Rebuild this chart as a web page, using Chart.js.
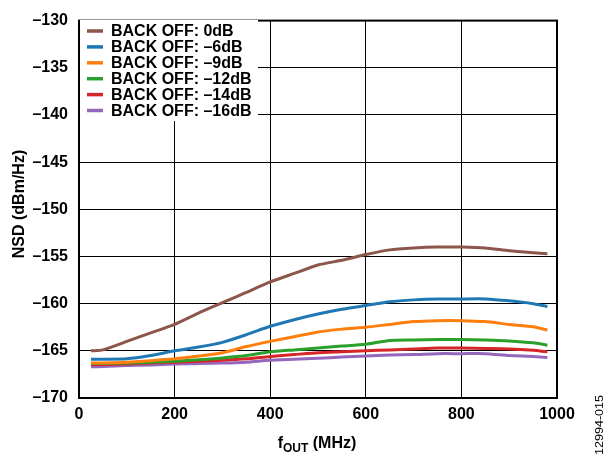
<!DOCTYPE html>
<html>
<head>
<meta charset="utf-8">
<script src="https://cdn.jsdelivr.net/npm/chart.js@4.4.0/dist/chart.umd.min.js"></script>
<style>
  body { margin: 0; background: #fff; }
  #wrap { width: 605px; height: 457px; }
</style>
</head>
<body>
<div id="wrap"><canvas id="nsd" width="605" height="457"></canvas></div>
<script>
// fOUT in MHz
const freqs = [25, 50, 100, 150, 200, 250, 300, 350, 400, 450, 500, 550, 600, 650, 700, 750, 800, 850, 900, 950, 980];

const nsd0dB = [-165.0, -164.9, -164.0, -163.1, -162.2, -161.0, -159.9, -158.8, -157.7, -156.8, -155.9, -155.4, -154.8, -154.3, -154.1, -154.0, -154.0, -154.1, -154.4, -154.6, -154.7];
const nsd6dB = [-165.9, -165.9, -165.85, -165.5, -165.0, -164.6, -164.1, -163.3, -162.4, -161.7, -161.1, -160.6, -160.2, -159.8, -159.6, -159.5, -159.5, -159.5, -159.7, -160.0, -160.3];
const nsd9dB = [-166.3, -166.3, -166.2, -166.05, -165.85, -165.55, -165.2, -164.55, -164.0, -163.5, -163.0, -162.7, -162.5, -162.2, -161.9, -161.8, -161.8, -161.9, -162.2, -162.45, -162.8];
const nsd12dB = [-166.35, -166.35, -166.3, -166.2, -166.1, -165.95, -165.75, -165.5, -165.1, -164.9, -164.7, -164.5, -164.3, -163.9, -163.85, -163.8, -163.8, -163.85, -163.95, -164.15, -164.4];
const nsd14dB = [-166.45, -166.45, -166.4, -166.3, -166.2, -166.1, -166.0, -165.85, -165.6, -165.4, -165.2, -165.1, -165.0, -164.9, -164.8, -164.7, -164.7, -164.75, -164.8, -164.95, -165.1];
const nsd16dB = [-166.7, -166.65, -166.55, -166.5, -166.4, -166.35, -166.3, -166.2, -166.0, -165.9, -165.8, -165.65, -165.55, -165.45, -165.4, -165.3, -165.3, -165.3, -165.5, -165.6, -165.7];

const seriesNames = ["BACK OFF: 0dB", "BACK OFF: \u20136dB", "BACK OFF: \u20139dB", "BACK OFF: \u201312dB", "BACK OFF: \u201314dB", "BACK OFF: \u201316dB"];
const seriesValues = [nsd0dB, nsd6dB, nsd9dB, nsd12dB, nsd14dB, nsd16dB];
const seriesColors = ["#8c564b", "#1f77b4", "#ff7f0e", "#2ca02c", "#d62728", "#9467bd"];

const FONT = "'Liberation Sans', Arial, sans-serif";

const datasets = seriesValues.map((vals, i) => ({
    label: seriesNames[i],
    data: freqs.map((f, j) => ({ x: f, y: vals[j] })),
    borderColor: seriesColors[i],
    borderWidth: 3,
    pointRadius: 0,
    tension: 0.2,
    fill: false
}));

const overlay = {
    id: "overlay",
    afterDatasetsDraw(chart) {
        const ctx = chart.ctx;
        const a = chart.chartArea;

        // frame
        ctx.save();
        ctx.strokeStyle = "#000";
        ctx.lineWidth = 2;
        ctx.strokeRect(a.left, a.top, a.right - a.left, a.bottom - a.top);
        ctx.restore();

        // legend inside plot
        ctx.save();
        ctx.fillStyle = "#fff";
        ctx.fillRect(a.left + 1, 20, 258 - a.left - 1, 101);
        ctx.font = "bold 16px " + FONT;
        ctx.textBaseline = "middle";
        seriesNames.forEach((name, i) => {
            const y = 31 + i * 15.9;
            ctx.strokeStyle = seriesColors[i];
            ctx.lineWidth = 3.5;
            ctx.beginPath();
            ctx.moveTo(87, y);
            ctx.lineTo(103, y);
            ctx.stroke();
            ctx.fillStyle = "#000";
            ctx.fillText(name, 111, y + 1);
        });
        ctx.restore();

        // y title
        ctx.save();
        ctx.fillStyle = "#000";
        ctx.font = "bold 16px " + FONT;
        ctx.translate(24, 204);
        ctx.rotate(-Math.PI / 2);
        ctx.textAlign = "center";
        ctx.textBaseline = "alphabetic";
        ctx.fillText("NSD (dBm/Hz)", 0, 0);
        ctx.restore();

        // x title with subscript
        ctx.save();
        ctx.fillStyle = "#000";
        ctx.textBaseline = "alphabetic";
        ctx.font = "bold 16px " + FONT;
        const wF = ctx.measureText("f").width;
        const wRest = ctx.measureText(" (MHz)").width;
        ctx.font = "bold 12px " + FONT;
        const wSub = ctx.measureText("OUT").width;
        let x = 317 - (wF + wSub + wRest) / 2;
        ctx.font = "bold 16px " + FONT;
        ctx.fillText("f", x, 448);
        x += wF;
        ctx.font = "bold 12px " + FONT;
        ctx.fillText("OUT", x, 452);
        x += wSub;
        ctx.font = "bold 16px " + FONT;
        ctx.fillText(" (MHz)", x, 448);
        ctx.restore();

        // figure id
        ctx.save();
        ctx.fillStyle = "#000";
        ctx.font = "10px " + FONT;
        const id = "12994-015";
        const w = ctx.measureText(id).width;
        ctx.translate(603, 425);
        ctx.rotate(-Math.PI / 2);
        ctx.scale(60 / w, 1);
        ctx.textAlign = "center";
        ctx.fillText(id, 0, 0);
        ctx.restore();
    }
};

new Chart(document.getElementById("nsd"), {
    type: "line",
    data: { datasets: datasets },
    options: {
        responsive: false,
        animation: false,
        devicePixelRatio: 1,
        layout: { padding: { left: 0, top: 15, right: 48, bottom: 0 } },
        plugins: {
            legend: { display: false },
            tooltip: { enabled: false }
        },
        scales: {
            x: {
                type: "linear",
                min: 0,
                max: 1000,
                ticks: {
                    stepSize: 200,
                    color: "#000",
                    font: { family: FONT, size: 16, weight: "bold" },
                    padding: 7,
                    maxRotation: 0,
                    callback: (v) => String(v)
                },
                grid: { color: "#000", lineWidth: 1, drawTicks: false },
                border: { color: "#000", width: 2 },
                afterFit(scale) { scale.height = 59; }
            },
            y: {
                min: -170,
                max: -130,
                ticks: {
                    stepSize: 5,
                    color: "#000",
                    font: { family: FONT, size: 16, weight: "bold" },
                    padding: 11,
                    callback: (v) => String(v).replace("-", "\u2013")
                },
                grid: { color: "#000", lineWidth: 1, drawTicks: false },
                border: { color: "#000", width: 2 },
                afterFit(scale) { scale.width = 79; }
            }
        }
    },
    plugins: [overlay]
});
</script>
</body>
</html>
